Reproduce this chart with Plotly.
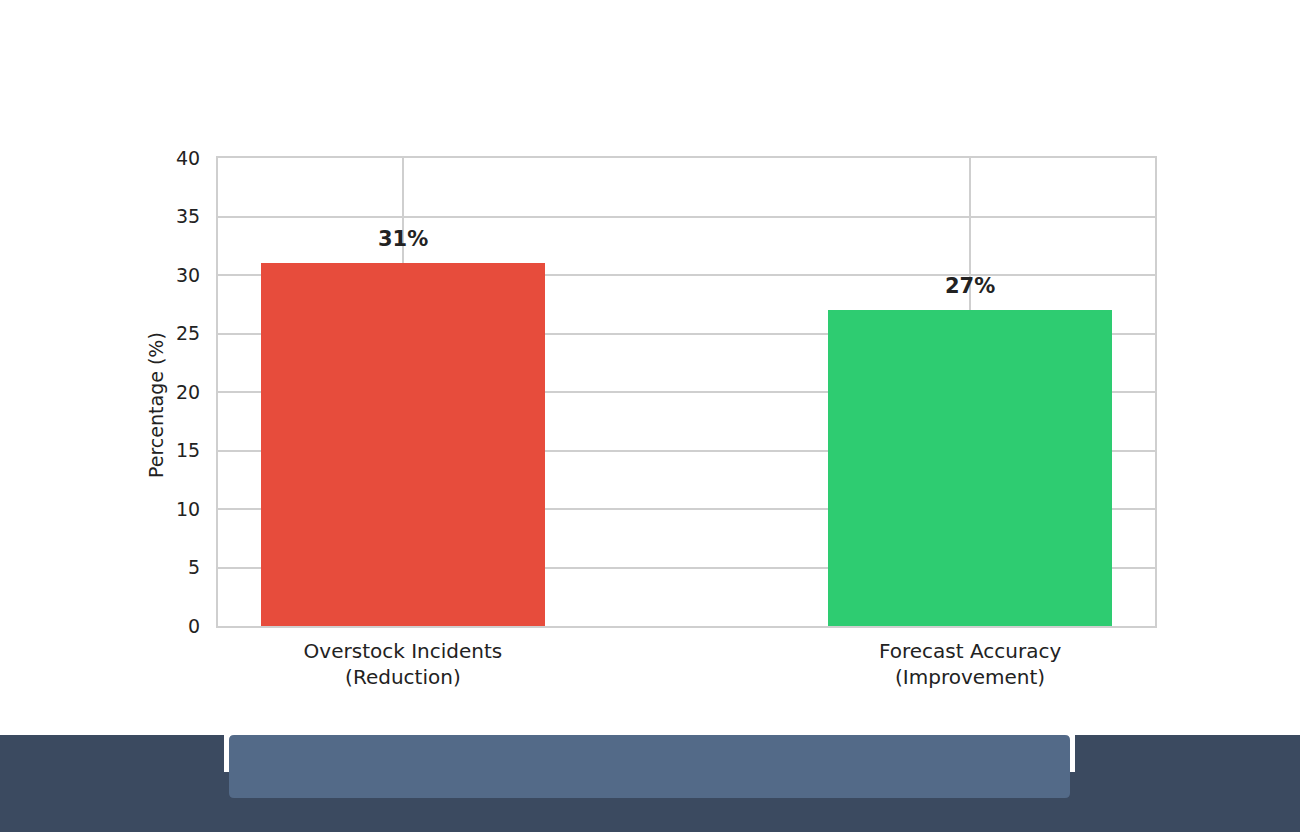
import plotly.graph_objects as go

categories = ["Overstock Incidents<br>(Reduction)", "Forecast Accuracy<br>(Improvement)"]
values = [31, 27]
labels = ["31%", "27%"]
colors = ["#e74c3c", "#2ecc71"]
y_ticks = [0, 5, 10, 15, 20, 25, 30, 35, 40]
y_title = "Percentage (%)"

W, H = 1300, 832
L, R, T, B = 218, 1155, 158, 626

def px(x):
    return (x - L) / (R - L)

def py(y):
    return (B - y) / (B - T)

fig = go.Figure()
fig.add_trace(go.Bar(
    x=[0, 1], y=values, width=0.5, marker=dict(color=colors, line=dict(width=0)),
    hoverinfo="skip", showlegend=False,
))

for i, (v, t) in enumerate(zip(values, labels)):
    fig.add_annotation(x=i, y=v, text=f"<b>{t}</b>", showarrow=False,
                       yanchor="bottom", yshift=10,
                       font=dict(family="DejaVu Sans", size=21, color="#222222"))

fig.add_annotation(xref="paper", yref="paper", x=px(156), y=py(405), text=y_title,
                   textangle=-90, showarrow=False, xanchor="center", yanchor="middle",
                   font=dict(family="DejaVu Sans", size=19, color="#222222"))

shapes = []
dark = "#3b4a60"
light = "#536a88"
shapes.append(dict(type="rect", xref="paper", yref="paper", x0=px(0), x1=px(W), y0=py(772), y1=py(H),
                   fillcolor=dark, line=dict(width=0), layer="above"))
shapes.append(dict(type="rect", xref="paper", yref="paper", x0=px(0), x1=px(224), y0=py(735), y1=py(772),
                   fillcolor=dark, line=dict(width=0), layer="above"))
shapes.append(dict(type="rect", xref="paper", yref="paper", x0=px(1075), x1=px(W), y0=py(735), y1=py(772),
                   fillcolor=dark, line=dict(width=0), layer="above"))

def rounded(x0, y0, x1, y1, r):
    return (f"M {px(x0+r)},{py(y0)} L {px(x1-r)},{py(y0)} Q {px(x1)},{py(y0)} {px(x1)},{py(y0+r)} "
            f"L {px(x1)},{py(y1-r)} Q {px(x1)},{py(y1)} {px(x1-r)},{py(y1)} "
            f"L {px(x0+r)},{py(y1)} Q {px(x0)},{py(y1)} {px(x0)},{py(y1-r)} "
            f"L {px(x0)},{py(y0+r)} Q {px(x0)},{py(y0)} {px(x0+r)},{py(y0)} Z")

shapes.append(dict(type="path", xref="paper", yref="paper", path=rounded(229, 735, 1070, 798, 5),
                   fillcolor=light, line=dict(width=0), layer="above"))

fig.update_layout(
    width=W, height=H,
    margin=dict(l=L, r=W - R, t=T, b=H - B, pad=0),
    paper_bgcolor="white", plot_bgcolor="white",
    font=dict(family="DejaVu Sans", size=19, color="#222222"),
    bargap=0,
    shapes=shapes,
    xaxis=dict(
        range=[-0.326, 1.326], tickvals=[0, 1], ticktext=categories,
        showgrid=True, gridcolor="#cfcfcf", gridwidth=2,
        showline=True, linecolor="#cfcfcf", linewidth=2, mirror=True,
        ticks="", zeroline=False, ticklabelstandoff=6,
        tickfont=dict(size=20, color="#222222"),
    ),
    yaxis=dict(
        range=[0, 40], tickvals=y_ticks,
        showgrid=True, gridcolor="#cfcfcf", gridwidth=2,
        showline=True, linecolor="#cfcfcf", linewidth=2, mirror=True,
        ticks="", zeroline=False, ticklabelstandoff=12,
        tickfont=dict(size=19, color="#222222"),
    ),
)

fig.write_html("out.html")
